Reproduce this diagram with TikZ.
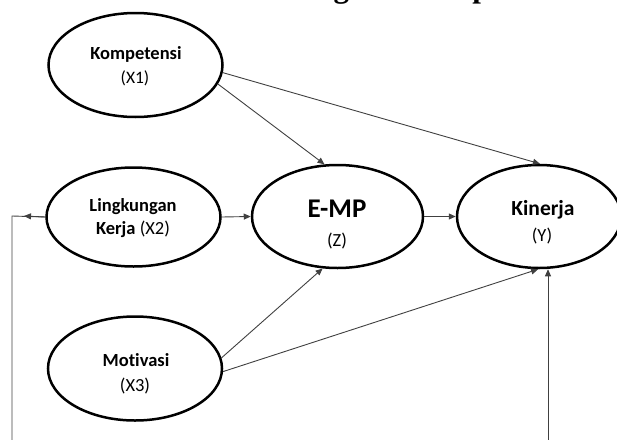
\documentclass[tikz,border=0pt]{standalone}
\usepackage{fontspec}
\setmainfont{Carlito}[Ligatures=NoCommon]
\newfontfamily\titlefont{Liberation Serif}
\usetikzlibrary{shapes.geometric,arrows.meta}
\begin{document}
\begin{tikzpicture}[x=1pt,y=-1pt,
  latent/.style={ellipse,draw=black,line width=2.5pt,minimum width=174pt,minimum height=104pt,inner sep=0pt},
  txt/.style={anchor=base,inner sep=0pt,font=\fontsize{18.5}{22}\selectfont},
  link/.style={draw=black!75,line width=0.9pt},
  arr/.style={link,-{Triangle[length=7pt,width=6pt]}}]
\useasboundingbox (0,0) rectangle (617,439);
\clip (0,0) rectangle (617,439);
\node[anchor=base west,inner sep=0pt,font=\titlefont\bfseries\fontsize{31}{31}\selectfont] (title) at (249,-2) {Kerangka Konseptual};
% ellipses
\node[latent] (komp) at (135.5,65) {};
\node[latent,minimum height=99pt] (lk) at (133.5,217) {};
\node[latent,minimum height=103pt,minimum width=171pt] (emp) at (337.5,216.5) {};
\node[latent,minimum height=103pt,minimum width=164pt] (kin) at (539,216.5) {};
\node[latent] (mot) at (135,368.5) {};
% texts
\node[txt,font=\bfseries\fontsize{18.5}{22}\selectfont] (kompa) at (136,59) {Kompetensi};
\node[txt,font=\fontsize{17.5}{22}\selectfont] (kompb) at (135,83) {(X1)};
\node[txt,font=\bfseries\fontsize{18.5}{22}\selectfont] (lka) at (133,211) {Lingkungan};
\node[txt] (lkb) at (133,234) {\textbf{Kerja} (X2)};
\node[txt,font=\bfseries\fontsize{27}{30}\selectfont] (empa) at (337,217) {E-MP};
\node[txt] (empb) at (337,246) {(Z)};
\node[txt,font=\bfseries\fontsize{21.5}{24}\selectfont] (kina) at (543,215) {Kinerja};
\node[txt] (kinb) at (542,241) {(Y)};
\node[txt,font=\bfseries\fontsize{18.5}{22}\selectfont] (mota) at (136,366) {Motivasi};
\node[txt] (motb) at (135,391) {(X3)};
% connectors
\coordinate (fbtip) at (24,216);
\coordinate (fbcorner) at (12,216);
\coordinate (fbend) at (12,445);
\coordinate (rbend) at (548,445);
\draw[arr] (komp.-13) -- (emp.104);
\draw[arr] (komp.-5) -- (kin.89);
\draw[arr] (lk.east) -- (emp.west);
\draw[arr] (emp.east) -- (kin.west);
\draw[arr] (mot.7) -- (emp.-106);
\draw[arr] (mot.-2) -- (kin.-91);
\draw[link] (lk.west) -- (fbcorner) -- (fbend);
\draw[arr] (lk.west) -- (fbtip);
\draw[arr] (rbend) -- (rbend |- kin.south);
\end{tikzpicture}
\end{document}
